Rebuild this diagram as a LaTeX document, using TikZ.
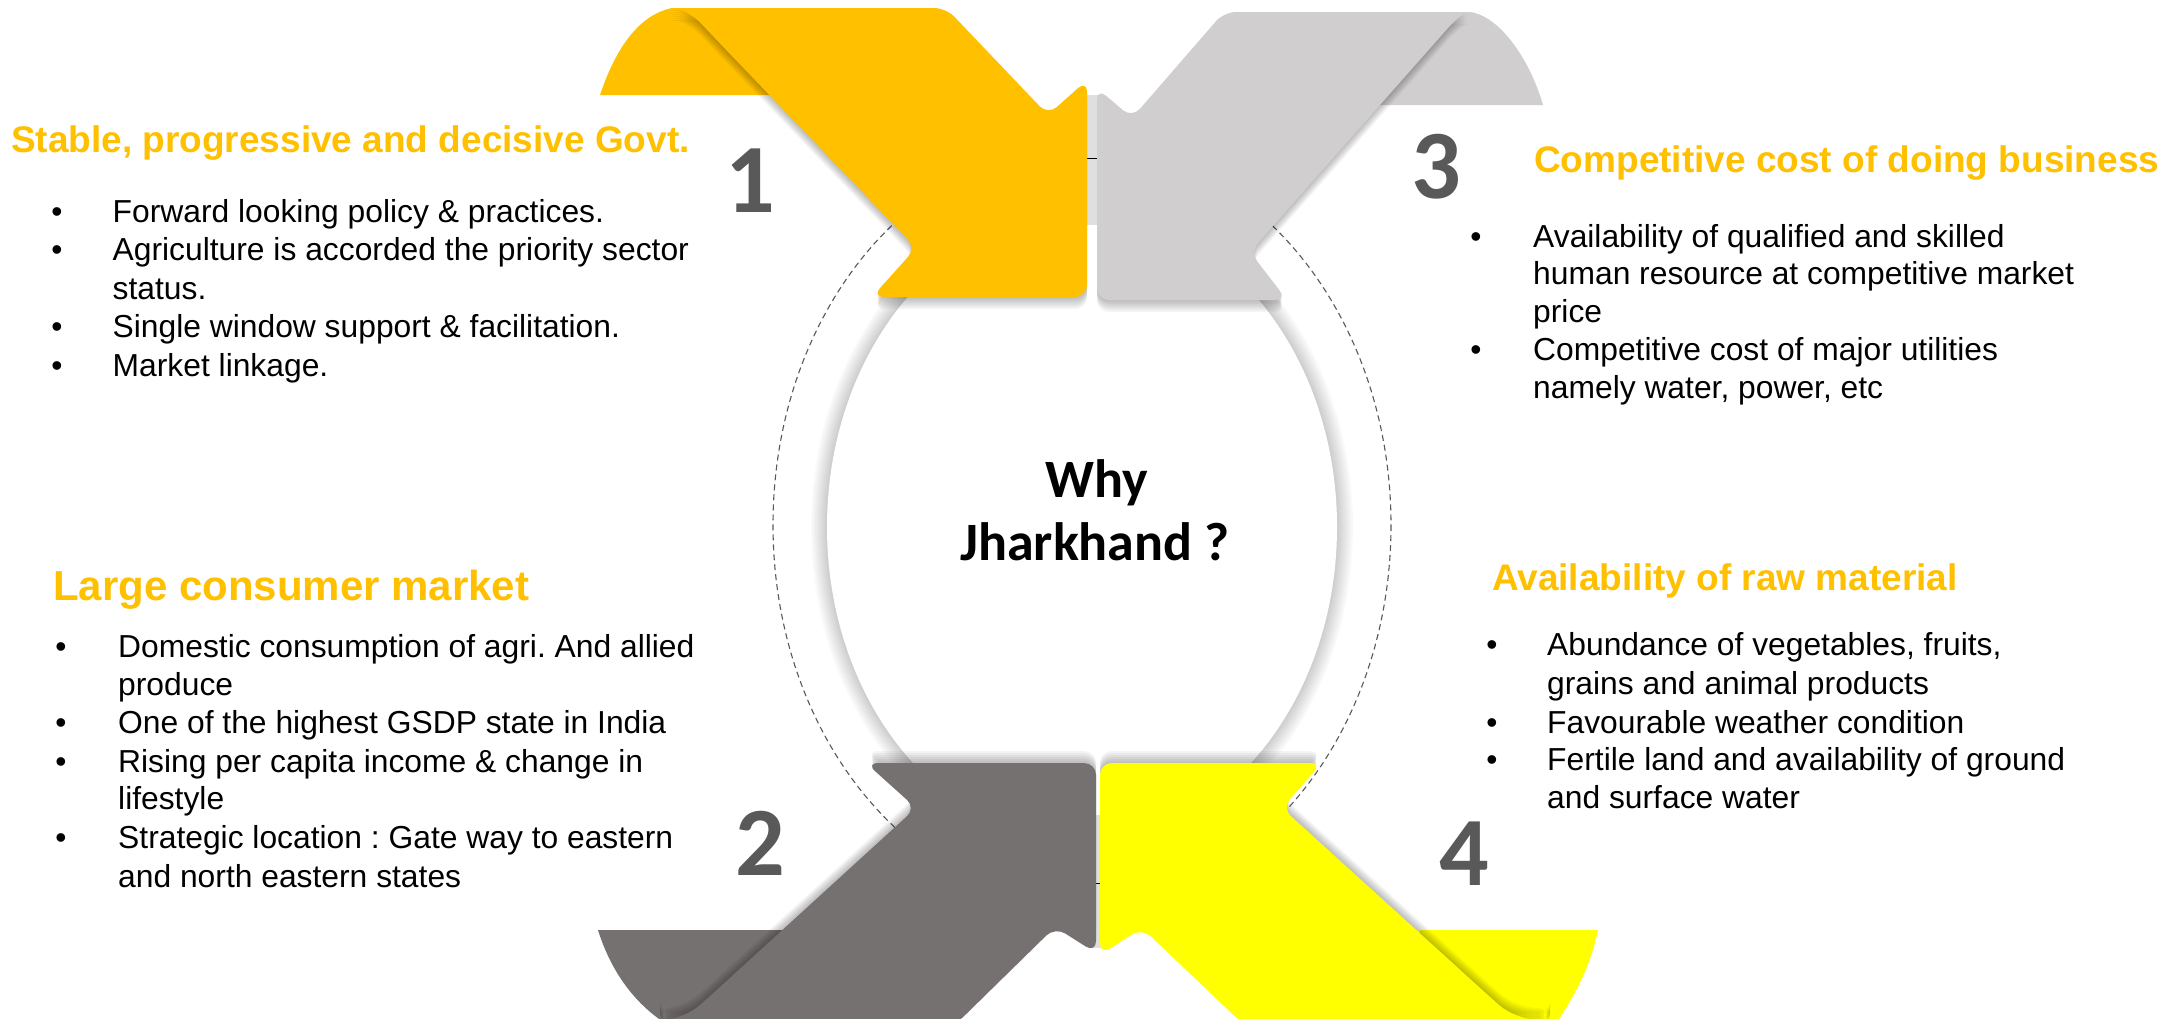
\documentclass[tikz,border=0pt]{standalone}
\usepackage{fontspec}
\setmainfont{Liberation Sans}
\newfontfamily\calfont{Carlito}
\definecolor{cA}{HTML}{FFC000}
\definecolor{cB}{HTML}{D0CECE}
\definecolor{cC}{HTML}{767171}
\definecolor{cD}{HTML}{FFFF00}
\definecolor{numc}{HTML}{595959}
\definecolor{headc}{HTML}{FFC000}
\frenchspacing
\begin{document}
\begin{tikzpicture}[x=1pt,y=-1pt,
  bodytxt/.style={anchor=base west, inner sep=0pt, font=\frenchspacing\fontsize{31.8}{38}\selectfont},
  bul/.style={anchor=base, inner sep=0pt, font=\fontsize{31.8}{38}\selectfont},
  headtxt/.style={anchor=base west, inner sep=0pt, text=headc, font=\frenchspacing\bfseries\fontsize{37}{44}\selectfont},
  numtxt/.style={anchor=base, inner sep=0pt, text=numc, font=\calfont\bfseries\fontsize{98}{110}\selectfont},
  whytxt/.style={anchor=base, inner sep=0pt, font=\calfont\bfseries\fontsize{54}{64}\selectfont},
  flapA/.style={insert path={(600,95) .. controls (615,50) and (638,15) .. (672,8) -- (785,8) -- (785,95) -- cycle}},
  shaftA/.style={rounded corners=12pt, insert path={(800,8) -- (946,8) -- (1048,115) -- (1087,80) -- (1087,297) -- (872,297) -- (916,248) -- (709,32) .. controls (695,17) and (682,9) .. (665,8) -- cycle}},
  flapB/.style={insert path={(1368,105) -- (1368,12) -- (1470,12) .. controls (1500,16) and (1530,60) .. (1543,105) -- cycle}},
  shaftB/.style={rounded corners=12pt, insert path={(1300,12) -- (1224,12) -- (1132,118) -- (1097,88) -- (1097,300) -- (1287,300) -- (1250,252) -- (1440,37) .. controls (1455,20) and (1465,12) .. (1480,12) -- cycle}},
  flapC/.style={insert path={(598,930) -- (785,930) -- (785,1025) -- (668,1025) .. controls (628,1000) and (608,962) .. (598,930) -- cycle}},
  shaftC/.style={rounded corners=12pt, insert path={(800,1025) -- (955,1025) -- (1055,927) -- (1096,953) -- (1096,763) -- (866,763) -- (916,808) -- (709,997) .. controls (692,1012) and (678,1018) .. (660,1020) -- (660,1025) -- cycle}},
  flapD/.style={insert path={(1420,930) -- (1598,930) .. controls (1590,968) and (1575,995) .. (1555,1025) -- (1420,1025) -- cycle}},
  shaftD/.style={rounded corners=12pt, insert path={(1200,763) -- (1322,763) -- (1282,808) -- (1490,997) .. controls (1508,1013) and (1525,1020) .. (1550,1020) -- (1550,1025) -- (1244,1025) -- (1142,928) -- (1100,955) -- (1100,763) -- cycle}}
]
\useasboundingbox (0,0) rectangle (2173,1018);
\clip (0,0) rectangle (2173,1018);
\fill[white] (0,0) rectangle (2173,1018);

% dashed ring and central ellipse
\draw[numc, line width=1.1pt, dash pattern=on 6pt off 4pt] (1082,525) ellipse [x radius=309, y radius=380];
\foreach \r in {16,14,...,2} {\fill[black, opacity=0.022] (1082,527) ellipse [x radius=255+\r, y radius=315+\r];}
\fill[white] (1082,527) ellipse [x radius=255, y radius=315];

% strips and ticks between arrows
\fill[gray!25] (1085,95) rectangle (1099,225);
\draw[black, line width=0.8pt] (1084,158) -- (1100,158);
\fill[gray!25] (1092,815) rectangle (1104,948);
\draw[black, line width=0.8pt] (1090,883) -- (1104,883);

% flaps
\fill[cA, flapA];
\fill[cB, flapB];
\fill[cC, flapC];
\fill[cD, flapD];

% shadows
\foreach \k in {2,4,...,12} {
  \fill[black, opacity=0.045, shift={(0,\k)}, shaftA];
  \fill[black, opacity=0.045, shift={(0,\k)}, shaftB];
  \fill[black, opacity=0.045, shift={(0,-\k)}, shaftC];
  \fill[black, opacity=0.045, shift={(0,-\k)}, shaftD];
}

% arrow shafts
\fill[cA, shaftA];
\fill[cB, shaftB];
\fill[cC, shaftC];
\fill[cD, shaftD];

% numbers
\node[numtxt] (n1) at (750,212) {1};
\node[numtxt] (n3) at (1436,198) {3};
\node[numtxt] (n2) at (760,875) {2};
\node[numtxt] (n4) at (1464,885) {4};

% centre text
\node[whytxt] (why1) at (1097,497) {Why};
\node[whytxt] (why2) at (1095,560) {Jharkhand ?};

% block 1
\node[headtxt] (h1) at (11,152) {Stable, progressive and decisive Govt.};
\node[bul] (b1a) at (57,222) {\textbullet};
\node[bodytxt] (t1a) at (112.5,222) {Forward looking policy \& practices.};
\node[bul] (b1b) at (57,260) {\textbullet};
\node[bodytxt] (t1b) at (112.5,260) {Agriculture is accorded the priority sector};
\node[bodytxt] (t1c) at (112.5,299) {status.};
\node[bul] (b1c) at (57,337) {\textbullet};
\node[bodytxt] (t1d) at (112.5,337) {Single window support \& facilitation.};
\node[bul] (b1d) at (57,376) {\textbullet};
\node[bodytxt] (t1e) at (112.5,376) {Market linkage.};

% block 3
\node[headtxt] (h3) at (1534,172) {Competitive cost of doing business};
\node[bul] (b3a) at (1476,247) {\textbullet};
\node[bodytxt] (t3a) at (1533,247) {Availability of qualified and skilled};
\node[bodytxt] (t3b) at (1533,284) {human resource at competitive market};
\node[bodytxt] (t3c) at (1533,322) {price};
\node[bul] (b3b) at (1476,360) {\textbullet};
\node[bodytxt] (t3d) at (1533,360) {Competitive cost of major utilities};
\node[bodytxt] (t3e) at (1533,398) {namely water, power, etc};

% block 2
\node[headtxt, font=\bfseries\fontsize{42}{50}\selectfont] (h2) at (53,600) {Large consumer market};
\node[bul] (b2a) at (61,657) {\textbullet};
\node[bodytxt] (t2a) at (118,657) {Domestic consumption of agri. And allied};
\node[bodytxt] (t2b) at (118,695) {produce};
\node[bul] (b2b) at (61,733) {\textbullet};
\node[bodytxt] (t2c) at (118,733) {One of the highest GSDP state in India};
\node[bul] (b2c) at (61,772) {\textbullet};
\node[bodytxt] (t2d) at (118,772) {Rising per capita income \& change in};
\node[bodytxt] (t2e) at (118,809) {lifestyle};
\node[bul] (b2d) at (61,848) {\textbullet};
\node[bodytxt] (t2f) at (118,848) {Strategic location : Gate way to eastern};
\node[bodytxt] (t2g) at (118,887) {and north eastern states};

% block 4
\node[headtxt] (h4) at (1492,590) {Availability of raw material};
\node[bul] (b4a) at (1492,655) {\textbullet};
\node[bodytxt] (t4a) at (1547,655) {Abundance of vegetables, fruits,};
\node[bodytxt] (t4b) at (1547,694) {grains and animal products};
\node[bul] (b4b) at (1492,733) {\textbullet};
\node[bodytxt] (t4c) at (1547,733) {Favourable weather condition};
\node[bul] (b4c) at (1492,770) {\textbullet};
\node[bodytxt] (t4d) at (1547,770) {Fertile land and availability of ground};
\node[bodytxt] (t4e) at (1547,808) {and surface water};
\end{tikzpicture}
\end{document}
